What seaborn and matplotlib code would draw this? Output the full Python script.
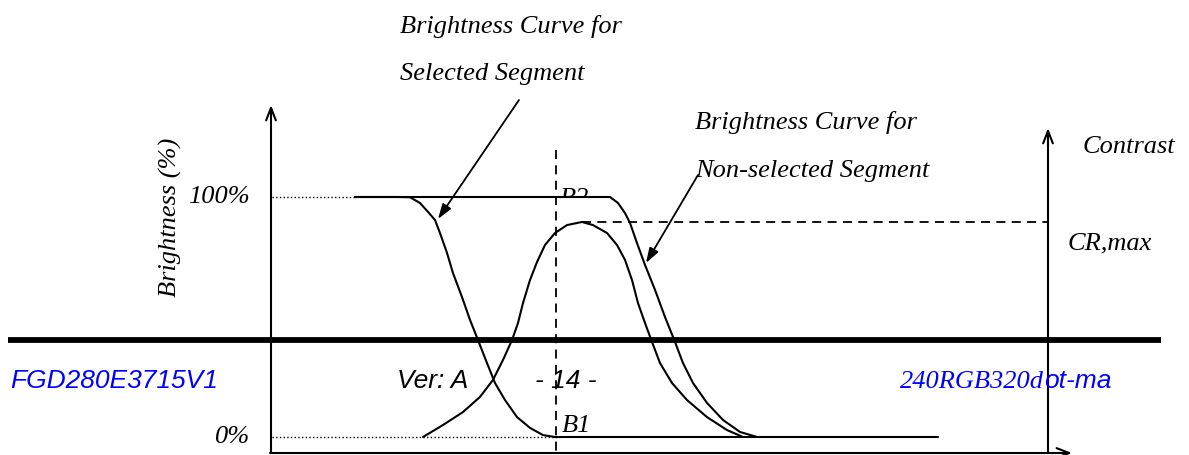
import numpy as np
import pandas as pd
import matplotlib
matplotlib.use("Agg")
import matplotlib.pyplot as plt
import seaborn as sns
from matplotlib.patches import Rectangle

# drive level (horizontal position) and brightness (%)
sel_x = [355, 398, 410, 420, 428, 435, 440, 447, 453, 462, 470, 478, 487,
         495, 505, 517, 530, 543, 555, 938]
sel_b = [100, 100, 99.9, 97.5, 93.8, 90.4, 85, 76.7, 68.3, 58.3, 48.8, 40.4,
         30.8, 22.5, 15.4, 8.3, 3.8, 0.8, 0, 0]

nonsel_x = [355, 610, 618, 625, 630, 637, 645, 655, 665, 675, 683, 693,
            707, 723, 740, 757]
nonsel_b = [100, 100, 97.5, 93.3, 89.2, 80.8, 71.7, 61.3, 50, 39.6, 30.8,
            22.5, 14.2, 7.1, 2.1, 0]

contrast_x = [423, 443, 463, 480, 493, 503, 512, 518, 523, 530, 537, 545,
              555, 567, 582, 593, 607, 617, 625, 632, 638, 645, 652, 660,
              672, 687, 707, 727, 743]
contrast_b = [0, 5, 10.4, 16.7, 23.8, 32.1, 40.4, 47.5, 55.8, 65.4, 72.9, 80,
              85, 88.3, 89.6, 88.3, 85, 80, 73.8, 65.4, 55.8, 47.5, 39.6, 30.8,
              22.5, 15.4, 8.3, 2.9, 0]

cr_max = max(contrast_b)
cr_x = contrast_x[contrast_b.index(cr_max)]
b_level = [0, 100]
b_labels = ["0%", "100%"]

W, H = 1189, 455


def py(ypx):
    # picture row -> brightness units
    return (437 - ypx) / 2.4


sns.set_style("white")
plt.rcParams["text.color"] = "black"
serif = ["Liberation Serif", "DejaVu Serif"]
sans = ["Liberation Sans", "DejaVu Sans"]

fig = plt.figure(figsize=(W / 100, H / 100), dpi=100)
ax = fig.add_axes([0, 0, 1, 1])
ax.set_xlim(0, W)
ax.set_ylim(py(H), py(0))
ax.axis("off")

curves = pd.concat([
    pd.DataFrame({"x": sel_x, "b": sel_b, "curve": "selected"}),
    pd.DataFrame({"x": nonsel_x, "b": nonsel_b, "curve": "non-selected"}),
    pd.DataFrame({"x": contrast_x, "b": contrast_b, "curve": "contrast"}),
])
sns.lineplot(data=curves, x="x", y="b", units="curve", estimator=None,
             sort=False, color="black", lw=1.5, ax=ax, legend=False, zorder=3)
for l in ax.lines:
    l.set_solid_joinstyle("round")

# axes with arrows
arr = dict(arrowstyle="->,head_length=0.9,head_width=0.35", lw=1.5, color="black",
           shrinkA=0, shrinkB=0)
ax.annotate("", xy=(271, py(105)), xytext=(271, py(453)), arrowprops=arr)
ax.annotate("", xy=(1048, py(128)), xytext=(1048, py(453)), arrowprops=arr)
ax.annotate("", xy=(1072, py(453)), xytext=(270, py(453)), arrowprops=arr)

# reference lines
ax.plot([272, sel_x[0]], [b_level[1]] * 2, ls=":", color="black", lw=1)
ax.plot([272, 560], [b_level[0]] * 2, ls=":", color="black", lw=1)
ax.plot([556, 556], [py(150), py(H)], ls=(0, (5, 3.5)), color="black", lw=1.3)
ax.plot([cr_x, 1048], [cr_max, cr_max], ls=(0, (5, 3.5)), color="black", lw=1.3)

# thick page rule
ax.plot([8, 1161], [py(340), py(340)], color="black", lw=4.2,
        solid_capstyle="butt", zorder=4)

fs = 19
for lab, lev in zip(b_labels, b_level):
    ax.text(250, lev, lab, family=serif, style="italic", fontsize=fs,
            ha="right", va="center")
ax.text(170, py(217), "Brightness (%)", family=serif, style="italic",
        fontsize=fs, rotation=90, ha="center", va="center")

# B2 sits on the 100% line, its lower part hidden
ax.text(560, py(205), "B2", family=serif, style="italic", fontsize=fs,
        ha="left", va="baseline", zorder=1)
ax.add_patch(Rectangle((558, py(212)), 40, py(198) - py(212), facecolor="white",
                       edgecolor="none", zorder=2))
ax.text(562, py(432), "B1", family=serif, style="italic", fontsize=fs,
        ha="left", va="baseline")

ax.text(400, py(33), "Brightness Curve for", family=serif, style="italic", fontsize=fs, va="baseline")
ax.text(400, py(80), "Selected Segment", family=serif, style="italic", fontsize=fs, va="baseline")
ax.text(695, py(129), "Brightness Curve for", family=serif, style="italic", fontsize=fs, va="baseline")
ax.text(695, py(177), "Non-selected Segment", family=serif, style="italic", fontsize=fs, va="baseline")
ax.text(1083, py(153), "Contrast", family=serif, style="italic", fontsize=fs, va="baseline")
ax.text(1068, py(249), "CR,max", family=serif, style="italic", fontsize=fs, va="baseline")

# pointers
ptr = dict(arrowstyle="-|>,head_length=0.9,head_width=0.3", lw=1.3, color="black",
           shrinkA=0, shrinkB=0)
ax.annotate("", xy=(438, py(219)), xytext=(519, py(100)), arrowprops=ptr)
ax.annotate("", xy=(646, py(263)), xytext=(698, py(175)), arrowprops=ptr)

# page footer
ax.text(10, py(388), "FGD280E3715V1", family=sans, style="italic", fontsize=fs,
        color="blue", va="baseline")
ax.text(397, py(388), "Ver: A", family=sans, style="italic", fontsize=fs, va="baseline")
ax.text(535, py(388), "- 14 -", family=sans, style="italic", fontsize=fs, va="baseline")
t1 = ax.text(900, py(388), "240RGB320d", family=serif, style="italic", fontsize=fs,
             color="blue", va="baseline")
fig.canvas.draw()
bb = t1.get_window_extent()
x_end = ax.transData.inverted().transform((bb.x1, bb.y0))[0]
ax.text(x_end, py(388), "ot-ma", family=sans, style="italic", fontsize=fs,
        color="blue", va="baseline")

fig.savefig("out.png", dpi=100)
